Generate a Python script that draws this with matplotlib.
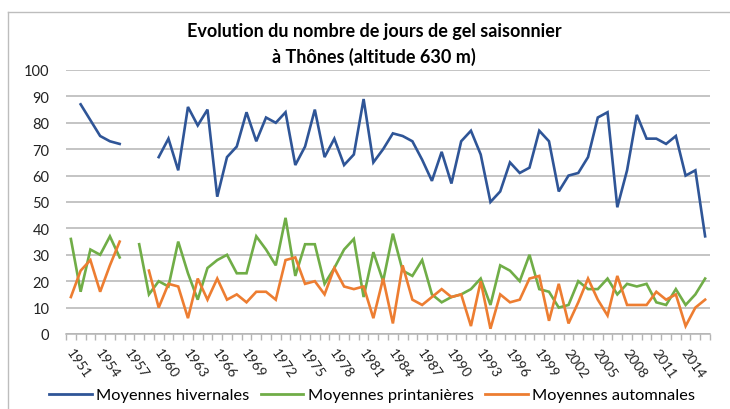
import numpy as np
import matplotlib.pyplot as plt
import matplotlib.transforms as mtransforms
from matplotlib.lines import Line2D

plt.rcParams['font.family'] = ['Lato', 'DejaVu Sans']

nan = np.nan
years = list(range(1951, 2017))

# Moyennes hivernales (1951 and 1957-1959 missing)
hiver = [nan, 87, 81, 75, 73, 72, nan, nan, nan, 67,
         74, 62, 86, 79, 85, 52, 67, 71, 84, 73,
         82, 80, 84, 64, 71, 85, 67, 74, 64, 68,
         89, 65, 70, 76, 75, 73, 66, 58, 69, 57,
         73, 77, 68, 50, 54, 65, 61, 63, 77, 73,
         54, 60, 61, 67, 82, 84, 48, 62, 83, 74,
         74, 72, 75, 60, 62, 37]

# Moyennes printanieres (1957 missing)
printemps = [36, 16, 32, 30, 37, 29, nan, 34, 15, 20,
             18, 35, 23, 13, 25, 28, 30, 23, 23, 37,
             32, 26, 44, 22, 34, 34, 19, 25, 32, 36,
             14, 31, 20, 38, 24, 22, 28, 15, 12, 14,
             15, 17, 21, 11, 26, 24, 20, 30, 17, 16,
             10, 11, 20, 17, 17, 21, 15, 19, 18, 19,
             12, 11, 17, 11, 15, 21]

# Moyennes automnales (1957-1958 missing)
automne = [14, 24, 28, 16, 26, 35, nan, nan, 24, 10,
           19, 18, 6, 21, 13, 21, 13, 15, 12, 16,
           16, 13, 28, 29, 19, 20, 15, 25, 18, 17,
           18, 6, 21, 4, 26, 13, 11, 14, 17, 14,
           15, 3, 20, 2, 15, 12, 13, 21, 22, 5,
           19, 4, 12, 21, 13, 7, 22, 11, 11, 11,
           16, 13, 15, 3, 10, 13]

series = [
    ('Moyennes hivernales', hiver, '#2F5597'),
    ('Moyennes printanières', printemps, '#70AD47'),
    ('Moyennes automnales', automne, '#ED7D31'),
]

fig = plt.figure(figsize=(7.3, 4.1), dpi=100)
ax = fig.add_axes([66 / 730, 75 / 410, 644 / 730, 264 / 410])

for name, vals, col in series:
    ax.plot(years, vals, color=col, lw=1.9, solid_joinstyle='miter')

ax.set_xlim(1950.5, 2016.5)
ax.set_ylim(0, 100)
ax.set_yticks(range(0, 101, 10))
ax.grid(axis='y', color='#b4b4b4', lw=1.1)
ax.set_axisbelow(True)

for s in ['top', 'right', 'left']:
    ax.spines[s].set_visible(False)
ax.spines['bottom'].set_color('#b4b4b4')
ax.spines['bottom'].set_linewidth(1.1)

ax.tick_params(axis='y', length=0, pad=12, labelsize=10.5, labelcolor='#222222')
ax.set_xticks(np.arange(1950.5, 2017, 1), minor=True)
ax.tick_params(axis='x', which='minor', length=4, color='#b4b4b4', width=1)
ax.set_xticks(years[::3])
ax.set_xticklabels([str(y) for y in years[::3]], rotation=-55, ha='left',
                   va='top', rotation_mode='anchor', fontsize=10)
ax.tick_params(axis='x', which='major', length=0, pad=9, labelcolor='#222222')
shift = mtransforms.ScaledTranslation(3 / 100, 0, fig.dpi_scale_trans)
for lab in ax.get_xticklabels():
    lab.set_transform(lab.get_transform() + shift)

fig.text(0.5125, 1 - 32 / 410, 'Evolution du nombre de jours de gel saisonnier',
         ha='center', va='center', fontsize=13, fontweight='bold')
fig.text(0.5125, 1 - 57 / 410, 'à Thônes (altitude 630 m)',
         ha='center', va='center', fontsize=13, fontweight='bold')

handles = [Line2D([], [], color=c, lw=2) for _, _, c in series]
fig.legend(handles, [n for n, _, _ in series], loc='center',
           bbox_to_anchor=(372 / 730, 1 - 396 / 410), ncol=3, frameon=False,
           fontsize=11.8, handlelength=2.6, handletextpad=0.25, columnspacing=0.7,
           borderpad=0, borderaxespad=0)

# chart area border (only left and top visible in the crop)
fig.add_artist(Line2D([8 / 730, 8 / 730], [0, 1 - 13 / 410], color='#bdbdbd', lw=1,
                      transform=fig.transFigure))
fig.add_artist(Line2D([8 / 730, 1], [1 - 13 / 410, 1 - 13 / 410], color='#bdbdbd', lw=1,
                      transform=fig.transFigure))

fig.savefig('out.png', dpi=100)
